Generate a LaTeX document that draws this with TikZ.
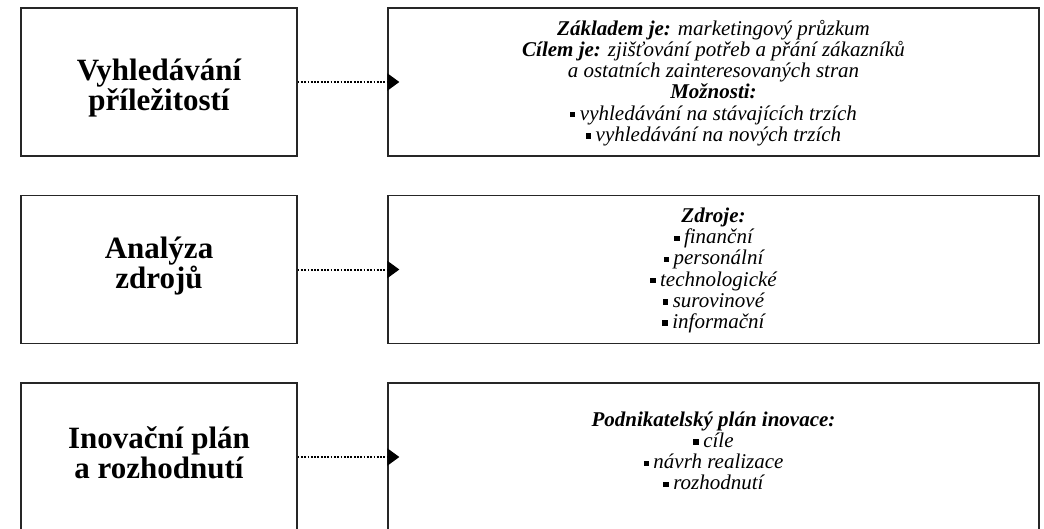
\documentclass[tikz,border=0pt]{standalone}
\usepackage{fontspec}
\setmainfont{Liberation Serif}
\usetikzlibrary{arrows.meta}
\newcommand{\bul}{\raisebox{2.7pt}{\rule{5.4pt}{5.4pt}}\hspace{4.5pt}}
\begin{document}
\begin{tikzpicture}[x=1pt,y=-1pt,
  boxframe/.style={draw=black!85, line width=1.3pt, inner sep=0pt},
  leftbox/.style={boxframe, minimum width=276pt, minimum height=148pt},
  rightbox/.style={boxframe, minimum width=651pt, minimum height=148pt},
  lefttext/.style={align=center, inner sep=0pt, font=\fontsize{31}{30}\selectfont\bfseries},
  righttext/.style={align=center, inner sep=0pt, font=\fontsize{21}{21.2}\selectfont\itshape},
  link/.style={line width=2pt, dash pattern=on 1.8pt off 1.5pt, -{Triangle[length=12pt,width=17pt]}}]

\useasboundingbox (0,0) rectangle (1044,528);

% boxes
\node[leftbox]  (l1) at (159,82)    {};
\node[rightbox] (r1) at (713.5,82)  {};
\node[leftbox]  (l2) at (159,269.5) {};
\node[rightbox] (r2) at (713.5,269.5) {};
\node[leftbox]  (l3) at (159,457)   {};
\node[rightbox] (r3) at (713.5,457) {};

% left texts
\node[lefttext] (lt1) at ([yshift=-6pt]l1.center) {Vyhledávání\\příležitostí};
\node[lefttext] (lt2) at ([yshift=3pt]l2.center) {Analýza\\zdrojů};
\node[lefttext] (lt3) at ([yshift=4.5pt]l3.center) {Inovační plán\\a rozhodnutí};

% right texts
\node[righttext] (rt1) at ([yshift=-1pt]r1.center) {\textbf{Základem je:} marketingový průzkum\\
  \textbf{Cílem je:} zjišťování potřeb a přání zákazníků\\
  a ostatních zainteresovaných stran\\
  \textbf{Možnosti:}\\
  \bul vyhledávání na stávajících trzích\\
  \bul vyhledávání na nových trzích};
\node[righttext] (rt2) at ([yshift=-1pt]r2.center) {\textbf{Zdroje:}\\
  \bul finanční\\
  \bul personální\\
  \bul technologické\\
  \bul surovinové\\
  \bul informační};
\node[righttext] (rt3) at ([yshift=6pt]r3.center) {\textbf{Podnikatelský plán inovace:}\\
  \bul cíle\\
  \bul návrh realizace\\
  \bul rozhodnutí};

% connectors
\draw[link] (l1.east) -- ([xshift=12pt]r1.west);
\draw[link] (l2.east) -- ([xshift=12pt]r2.west);
\draw[link] (l3.east) -- ([xshift=12pt]r3.west);
\end{tikzpicture}
\end{document}
